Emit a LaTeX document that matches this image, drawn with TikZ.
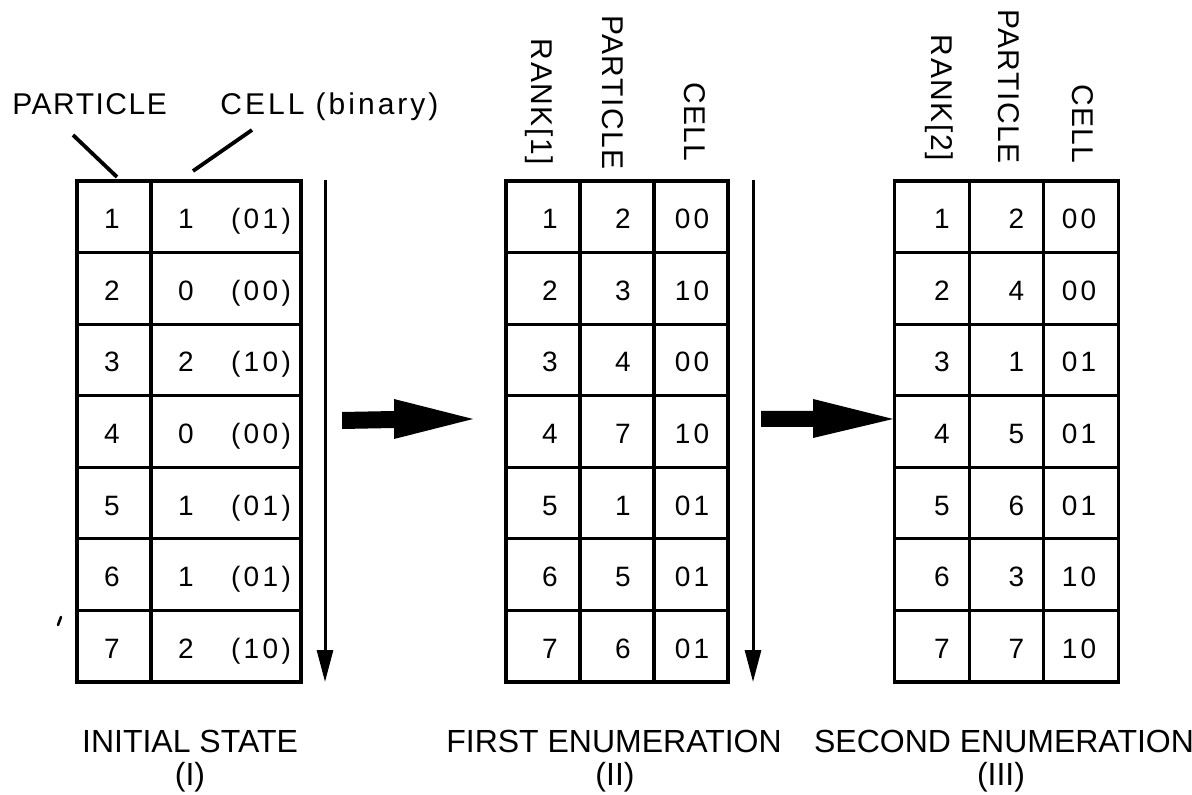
\documentclass[tikz,border=0pt]{standalone}
\usepackage{fontspec}
\setmainfont{Liberation Sans}
\newfontfamily\numfont[LetterSpace=12]{Liberation Sans}
\newfontfamily\lblfont[LetterSpace=5]{Liberation Sans}
\newfontfamily\widelblfont[LetterSpace=10]{Liberation Sans}
\usetikzlibrary{arrows.meta,calc}

\begin{document}
\begin{tikzpicture}[x=0.5pt,y=-0.5pt,
  cell/.style={draw, line width=1.6pt, inner sep=0pt, minimum height=35.785pt},
  num/.style={font=\numfont\fontsize{14}{16}\selectfont, inner sep=0pt, anchor=base},
  lbl/.style={font=\lblfont\fontsize{15}{17}\selectfont, inner sep=0pt, text height=10.8pt, text depth=0pt},
  vlbl/.style={lbl, rotate=-90, anchor=east},
  captext/.style={font=\fontsize{16}{18}\selectfont, inner sep=0pt, anchor=base},
  leader/.style={line width=1.9pt},
  scan/.style={line width=1.5pt, -{Triangle[length=16pt,width=8pt]}},
  bigarrow/.style={fill=black},
]
\useasboundingbox (0,0) rectangle (1192,795);

% ---------- table I: initial state ----------
\foreach \r/\p/\c/\b [evaluate=\r as \yc using 181+(\r-0.5)*71.57] in
    {1/1/1/01, 2/2/0/00, 3/3/2/10, 4/4/0/00, 5/5/1/01, 6/6/1/01, 7/7/2/10} {
  \node[cell, minimum width=37pt] (A-\r-1) at (114,\yc) {};
  \node[cell, minimum width=75pt] (A-\r-2) at (226,\yc) {};
  \node[num] (A-\r-1t) at ($(A-\r-1.center)+(-2,12)$) {\p};
  \node[num] (A-\r-2t) at ($(A-\r-2.center)+(-40,12)$) {\c};
  \node[num] (A-\r-2b) at ($(A-\r-2.center)+(35,12)$) {(\b)};
}

% ---------- table II: first enumeration ----------
\foreach \r/\p/\c [evaluate=\r as \yc using 181+(\r-0.5)*71.57] in
    {1/2/00, 2/3/10, 3/4/00, 4/7/10, 5/1/01, 6/5/01, 7/6/01} {
  \node[cell, minimum width=37pt] (B-\r-1) at (543,\yc) {};
  \node[cell, minimum width=37pt] (B-\r-2) at (617,\yc) {};
  \node[cell, minimum width=37pt] (B-\r-3) at (691,\yc) {};
  \node[num] (B-\r-1t) at ($(B-\r-1.center)+(7,12)$) {\r};
  \node[num] (B-\r-2t) at ($(B-\r-2.center)+(6,12)$) {\p};
  \node[num] (B-\r-3t) at ($(B-\r-3.center)+(1,12)$) {\c};
}

% ---------- table III: second enumeration ----------
\foreach \r/\p/\c [evaluate=\r as \yc using 181+(\r-0.5)*71.57] in
    {1/2/00, 2/4/00, 3/1/01, 4/5/01, 5/6/01, 6/3/10, 7/7/10} {
  \node[cell, minimum width=37.25pt] (C-\r-1) at (932,\yc) {};
  \node[cell, minimum width=37.25pt] (C-\r-2) at (1006.5,\yc) {};
  \node[cell, minimum width=37.25pt] (C-\r-3) at (1081,\yc) {};
  \node[num] (C-\r-1t) at ($(C-\r-1.center)+(10,12)$) {\r};
  \node[num] (C-\r-2t) at ($(C-\r-2.center)+(10,12)$) {\p};
  \node[num] (C-\r-3t) at ($(C-\r-3.center)+(-2,12)$) {\c};
}

% ---------- column labels ----------
\node[lbl, anchor=west] (lpart) at (12,104) {PARTICLE};
\node[lbl, anchor=west, font=\widelblfont\fontsize{15}{17}\selectfont] (lcell) at (220,104) {CELL (binary)};
\coordinate (lpart-a) at (73,135);
\coordinate (lpart-b) at (117,177);
\coordinate (lcell-a) at (252,130);
\coordinate (lcell-b) at (193,171);
\draw[leader] (lpart-a) -- (lpart-b);
\draw[leader] (lcell-a) -- (lcell-b);

\node[vlbl] (hB1) at (542,165) {RANK[1]};
\node[vlbl] (hB2) at (613,170) {PARTICLE};
\node[vlbl] (hB3) at (695,162) {CELL};
\node[vlbl] (hC1) at (942,161) {RANK[2]};
\node[vlbl] (hC2) at (1009,164) {PARTICLE};
\node[vlbl] (hC3) at (1083,164) {CELL};

% ---------- scan direction arrows ----------
\coordinate (sA-top) at (325,180);
\coordinate (sA-end) at (325,682);
\coordinate (sB-top) at (753,180);
\coordinate (sB-end) at (753,682);
\draw[scan] (sA-top) -- (sA-end);
\draw[scan] (sB-top) -- (sB-end);

% ---------- transition arrows ----------
\coordinate (g1s) at (342,420);
\coordinate (g1e) at (473,419);
\coordinate (g2s) at (761,419);
\coordinate (g2e) at (893,419);
\fill[bigarrow] ($(g1s)+(0,-8)$) -- ($(g1e)+(-79,-8)$) -- ($(g1e)+(-79,-20)$) -- (g1e)
  -- ($(g1e)+(-79,20)$) -- ($(g1e)+(-79,9)$) -- ($(g1s)+(0,9)$) -- cycle;
\fill[bigarrow] ($(g2s)+(0,-8)$) -- ($(g2e)+(-80,-8)$) -- ($(g2e)+(-80,-20)$) -- (g2e)
  -- ($(g2e)+(-80,19)$) -- ($(g2e)+(-80,8)$) -- ($(g2s)+(0,8)$) -- cycle;

% ---------- captions ----------
\node[captext] (capA) at (190,752) {INITIAL STATE};
\node[captext] (capAn) at (190,785) {(I)};
\node[captext] (capB) at (614,752) {FIRST ENUMERATION};
\node[captext] (capBn) at (615,785) {(II)};
\node[captext] (capC) at (1004,752) {SECOND ENUMERATION};
\node[captext] (capCn) at (1001,785) {(III)};

% small speck left of the first table
\draw[line width=1.3pt, line cap=round] (61,617) -- (58,625);
\end{tikzpicture}
\end{document}
